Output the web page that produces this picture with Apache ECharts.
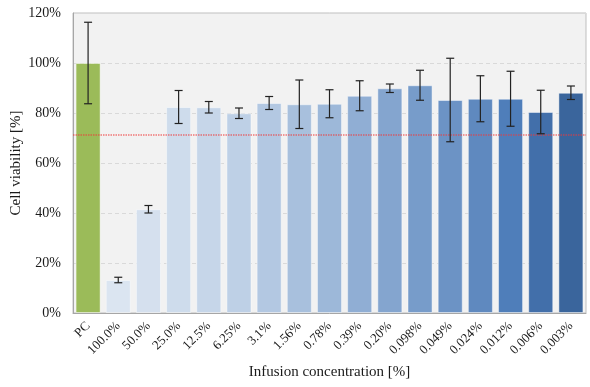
<!DOCTYPE html>
<html>
<head>
<meta charset="utf-8">
<script src="https://cdn.jsdelivr.net/npm/echarts@6/dist/echarts.min.js"></script>
<style>html,body{margin:0;padding:0;background:#fff}#c{width:590px;height:387px}</style>
</head>
<body>
<div id="c"></div>
<script>
const categories = ['PC','100.0%','50.0%','25.0%','12.5%','6.25%','3.1%','1.56%','0.78%','0.39%','0.20%','0.098%','0.049%','0.024%','0.012%','0.006%','0.003%'];
const viability = [100, 13.2, 41.5, 82.4, 82.3, 79.9, 84.0, 83.5, 83.7, 86.9, 89.9, 91.1, 85.2, 85.7, 85.7, 80.4, 88.1];
const errors = [16.3, 1.1, 1.5, 6.6, 2.3, 2.1, 2.6, 9.7, 5.6, 6.0, 1.7, 6.0, 16.7, 9.2, 11.0, 8.7, 2.7];
const threshold = [71.2];
const yTicks = [0, 20, 40, 60, 80, 100, 120];
const barColors = ['#9BBB59','#DBE5F1','#D5E0EE','#CEDCEC','#C6D6E9','#BED0E6','#B3C8E2','#A8C0DD','#9DB8D9','#90AED4','#84A5CF','#779CCA','#6C93C5','#5F89BF','#4F7EBA','#426FAA','#3A659C'];

const font = 'Liberation Serif, Times New Roman, serif';
const chart = echarts.init(document.getElementById('c'));
chart.setOption({
  animation: false,
  grid: {left: 73, right: 4, top: 13, bottom: 74, outerBoundsMode: 'none', containLabel: false, show: true, backgroundColor: '#F2F2F2', borderColor: '#BFBFBF', borderWidth: 1},
  xAxis: {
    type: 'category', data: categories,
    name: 'Infusion concentration [%]', nameLocation: 'middle', nameGap: 52,
    nameTextStyle: {fontFamily: font, fontSize: 15, color: '#1a1a1a'},
    axisLine: {show: true, lineStyle: {color: '#A6A6A6'}},
    axisTick: {show: false},
    axisLabel: {rotate: 45, interval: 0, margin: 11, fontFamily: font, fontSize: 13, color: '#1a1a1a'}
  },
  yAxis: {
    type: 'value', min: yTicks[0], max: yTicks[yTicks.length-1], interval: 20,
    name: 'Cell viability [%]', nameLocation: 'middle', nameGap: 49, nameMoveOverlap: false,
    nameTextStyle: {fontFamily: font, fontSize: 15, color: '#1a1a1a'},
    axisLine: {show: true, lineStyle: {color: '#A6A6A6'}},
    axisTick: {show: false},
    axisLabel: {margin: 12, fontFamily: font, fontSize: 14, color: '#1a1a1a', formatter: v => v + '%'},
    splitLine: {lineStyle: {color: '#D9D9D9', type: [4, 3]}}
  },
  series: [
    {
      type: 'bar', barCategoryGap: '17%',
      data: viability.map((v, i) => ({value: v, itemStyle: {color: barColors[i]}})),
      itemStyle: {borderColor: 'rgba(255,255,255,0.45)', borderWidth: 1},
      z: 2
    },
    {
      type: 'custom', silent: true,
      data: threshold.map(t => [0, t]),
      renderItem: function (params, api) {
        const cs = params.coordSys;
        const y = api.coord([0, api.value(1)])[1];
        return {type: 'line', shape: {x1: cs.x, y1: y, x2: cs.x + cs.width, y2: y},
          style: {stroke: '#F03838', lineWidth: 1.2, lineDash: [1.5, 1]}};
      },
      z: 3
    },
    {
      type: 'custom',
      data: viability.map((v, i) => [i, v - errors[i], v + errors[i]]),
      renderItem: function (params, api) {
        const x = api.value(0);
        const lo = api.coord([x, api.value(1)]);
        const hi = api.coord([x, api.value(2)]);
        const hw = 4;
        const st = {stroke: '#222', lineWidth: 1.2};
        return {type: 'group', children: [
          {type: 'line', shape: {x1: lo[0], y1: lo[1], x2: hi[0], y2: hi[1]}, style: st},
          {type: 'line', shape: {x1: lo[0]-hw, y1: lo[1], x2: lo[0]+hw, y2: lo[1]}, style: st},
          {type: 'line', shape: {x1: hi[0]-hw, y1: hi[1], x2: hi[0]+hw, y2: hi[1]}, style: st}
        ]};
      },
      z: 5
    }
  ]
});
</script>
</body>
</html>
